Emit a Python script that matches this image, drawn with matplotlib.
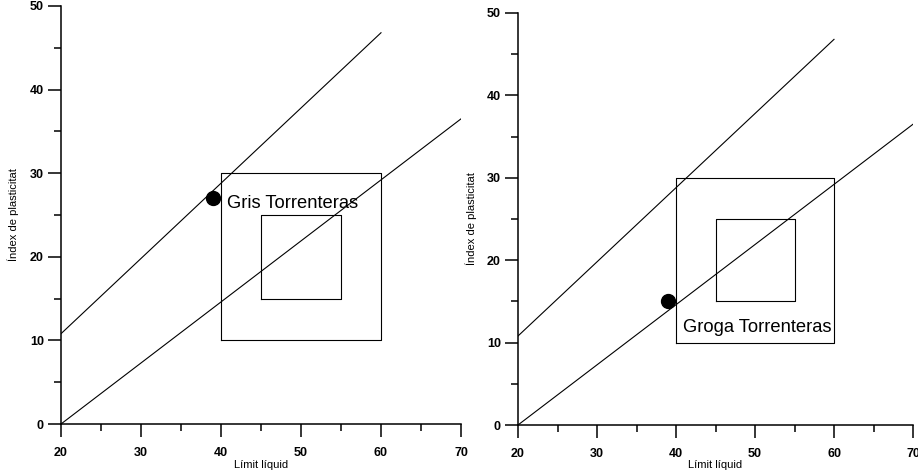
import matplotlib
matplotlib.use("Agg")
import matplotlib.pyplot as plt

plt.rcParams['font.family'] = ['Liberation Sans', 'DejaVu Sans']

# Lines of the plasticity chart
u_line_x = [20, 60]
u_line_y = [10.8, 46.8]
a_line_x = [20, 70]
a_line_y = [0, 36.5]

# Boxes (outer and inner)
outer_box_x = [40, 60, 60, 40, 40]
outer_box_y = [10, 10, 30, 30, 10]
inner_box_x = [45, 55, 55, 45, 45]
inner_box_y = [15, 15, 25, 25, 15]

# Samples
samples = ["Gris Torrenteras", "Groga Torrenteras"]
sample_ll = [39, 39]
sample_pi = [27, 15]
label_x = [40.75, 40.9]
label_y = [25.8, 11.3]

xticks = [20, 30, 40, 50, 60, 70]
yticks = [0, 10, 20, 30, 40, 50]

fig = plt.figure(figsize=(9.18, 4.73), dpi=100)
positions = [[61/918, 49/473, 400/918, 418/473],
             [518/918, 48/473, 395/918, 412/473]]

for i, pos in enumerate(positions):
    ax = fig.add_axes(pos)
    ax.plot(u_line_x, u_line_y, color="black", lw=0.8)
    ax.plot(a_line_x, a_line_y, color="black", lw=0.8)
    ax.plot(outer_box_x, outer_box_y, color="black", lw=0.8)
    ax.plot(inner_box_x, inner_box_y, color="black", lw=0.8)
    ax.plot(sample_ll[i], sample_pi[i], "o", color="black", ms=10)
    ax.text(label_x[i], label_y[i], samples[i], fontsize=13.2, va="baseline", ha="left")

    ax.set_xlim(20, 70)
    ax.set_ylim(0, 50)
    ax.set_xticks(xticks)
    ax.set_yticks(yticks)
    ax.set_xticks([25, 35, 45, 55, 65], minor=True)
    ax.set_yticks([5, 15, 25, 35, 45], minor=True)
    for s in ["top", "right"]:
        ax.spines[s].set_visible(False)
    for s in ["left", "bottom"]:
        ax.spines[s].set_linewidth(1.1)
    ax.tick_params(which="major", direction="out", length=9.4, width=1.1, labelsize=9, pad=3)
    ax.tick_params(which="minor", direction="out", length=5, width=1.1)
    ax.tick_params(axis="x", which="major", pad=7)
    for lab in ax.get_xticklabels() + ax.get_yticklabels():
        lab.set_fontweight("bold")

    ax.set_xlabel("Límit líquid", fontsize=8)
    ax.set_ylabel("Índex de plasticitat", fontsize=8)
    ax.xaxis.set_label_coords(0.5, -0.086)
    ax.yaxis.set_label_coords(-0.105, 0.5)

fig.savefig("out.png", dpi=100)
